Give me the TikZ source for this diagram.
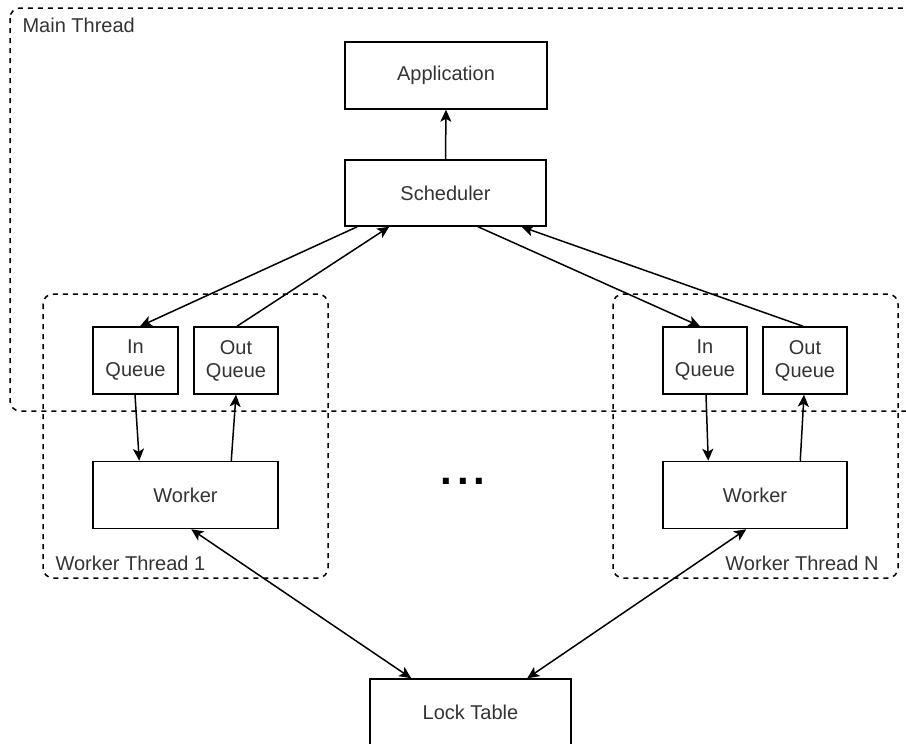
\documentclass[tikz,border=0pt]{standalone}
\usepackage{fontspec}
\setmainfont{Liberation Sans}
\usetikzlibrary{arrows.meta}
\begin{document}
\begin{tikzpicture}[x=1pt,y=-1pt,
  every node/.style={font=\fontsize{20}{23}\selectfont, text=black!80},
  block/.style={draw=black, line width=1.5pt, inner sep=0pt, align=center, minimum height=67pt},
  group/.style={draw=black, line width=1.5pt, dash pattern=on 5pt off 5pt, rounded corners=10pt},
  link/.style={draw=black, line width=1.5pt, -{Stealth[length=12pt,width=11pt,inset=3pt]}},
  dlink/.style={draw=black, line width=1.5pt, {Stealth[length=12pt,width=11pt,inset=3pt]}-{Stealth[length=12pt,width=11pt,inset=3pt]}}]
  \useasboundingbox (0,0) rectangle (906,744);
  \clip (0,0) rectangle (906,744);

  % thread groups
  \draw[group] (10,8) rectangle (930,411);
  \node[anchor=west] (mainlbl) at (19,25) {Main Thread};
  \draw[group] (43,294) rectangle (328,578);
  \node[anchor=west] (wt1lbl) at (52,563) {Worker Thread 1};
  \draw[group] (613,294) rectangle (898,578);
  \node[anchor=east] (wtnlbl) at (882,563) {Worker Thread N};

  % components
  \node[block, minimum width=202pt] (app) at (446,75.5) {Application};
  \node[block, minimum width=201pt, minimum height=66pt] (sched) at (445.5,193) {Scheduler};
  \node[block, minimum width=85pt] (inq1) at (135.5,360.5) {In\\Queue};
  \node[block, minimum width=84pt] (outq1) at (236,360.5) {Out\\Queue};
  \node[block, minimum width=185pt] (w1) at (185.5,495) {Worker};
  \node[block, minimum width=84pt] (inqN) at (705,360.5) {In\\Queue};
  \node[block, minimum width=84pt] (outqN) at (805,360.5) {Out\\Queue};
  \node[block, minimum width=184pt] (wN) at (755,495) {Worker};
  \node[block, minimum width=201pt] (lock) at (470.5,712.5) {Lock Table};
  \node[text=black, font=\bfseries\fontsize{42}{42}\selectfont] (dots) at (463,481) {.\kern4.6pt.\kern4.6pt.};

  % message flow
  \draw[link] (sched.north) -- (app.south);
  \draw[link] ([xshift=13pt]sched.south west) -- ([xshift=4.5pt]inq1.north);
  \draw[link] ([xshift=1pt]outq1.north) -- ([xshift=45pt]sched.south west);
  \draw[link] ([xshift=32.5pt]sched.south) -- ([xshift=-5pt]inqN.north);
  \draw[link] ([xshift=-2pt]outqN.north) -- ([xshift=76pt]sched.south);
  \draw[link] ([xshift=-0.5pt]inq1.south) -- ([xshift=47pt]w1.north west);
  \draw[link] ([xshift=139pt]w1.north west) -- (outq1.south);
  \draw[link] ([xshift=1pt]inqN.south) -- ([xshift=46pt]wN.north west);
  \draw[link] ([xshift=138pt]wN.north west) -- ([xshift=-1pt]outqN.south);
  \draw[dlink] ([xshift=99pt]w1.south west) -- ([xshift=42pt]lock.north west);
  \draw[dlink] ([xshift=84pt]wN.south west) -- ([xshift=158pt]lock.north west);
\end{tikzpicture}
\end{document}
